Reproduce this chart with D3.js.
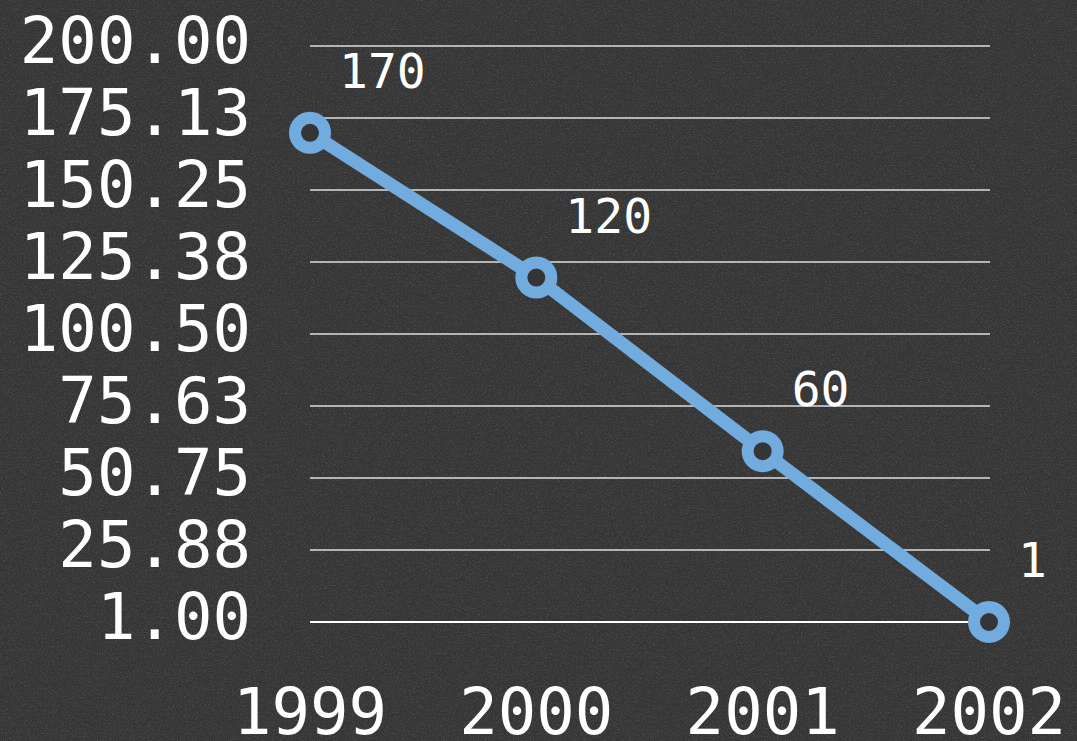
<!DOCTYPE html>
<html>
<head>
<meta charset="utf-8">
<script src="https://cdn.jsdelivr.net/npm/d3@7"></script>
<style>
  html, body { margin: 0; padding: 0; background: #373737; }
  svg { display: block; }
  text { font-family: "DejaVu Sans Mono", monospace; fill: #fff; }
</style>
</head>
<body>
<svg id="chart" width="1077" height="741"></svg>
<script>
var years = ["1999", "2000", "2001", "2002"];
var values = [170, 120, 60, 1];
var yTicks = [1, 25.875, 50.75, 75.625, 100.5, 125.375, 150.25, 175.125, 200];

var width = 1077, height = 741;
var svg = d3.select("#chart");

// chalkboard-ish background
var defs = svg.append("defs");
var noise = defs.append("filter").attr("id", "noise")
    .attr("x", 0).attr("y", 0).attr("width", "100%").attr("height", "100%");
noise.append("feTurbulence")
    .attr("type", "fractalNoise")
    .attr("baseFrequency", 0.75)
    .attr("numOctaves", 2)
    .attr("seed", 7);
noise.append("feColorMatrix")
    .attr("type", "matrix")
    .attr("values", "0 0 0 0 1  0 0 0 0 1  0 0 0 0 1  1.6 0 0 0 -0.75");

svg.append("rect").attr("width", width).attr("height", height).attr("fill", "#353535");
svg.append("rect").attr("width", width).attr("height", height)
    .attr("filter", "url(#noise)").attr("opacity", 0.22);

var x = d3.scalePoint().domain(years).range([310, 989]);
var y = d3.scaleLinear().domain([1, 200]).range([622, 46]);
var fmt = d3.format(".2f");

// grid lines
svg.append("g").selectAll("line")
    .data(yTicks)
    .enter()
    .append("line")
    .attr("x1", 310).attr("x2", 990)
    .attr("y1", function (d) { return y(d); })
    .attr("y2", function (d) { return y(d); })
    .attr("stroke", function (d, i) { return i === 0 ? "#ffffff" : "#b4b4b4"; })
    .attr("stroke-width", 2);

// y labels
svg.append("g").selectAll("text")
    .data(yTicks)
    .enter()
    .append("text")
    .attr("x", 251)
    .attr("y", function (d) { return y(d) + 17; })
    .attr("text-anchor", "end")
    .attr("font-size", 64)
    .text(function (d) { return fmt(d); });

// x labels
svg.append("g").selectAll("text")
    .data(years)
    .enter()
    .append("text")
    .attr("x", function (d) { return x(d); })
    .attr("y", 734)
    .attr("text-anchor", "middle")
    .attr("font-size", 64)
    .text(function (d) { return d; });

var pts = years.map(function (d, i) { return [x(d), y(values[i])]; });

svg.append("path")
    .datum(pts)
    .attr("d", d3.line())
    .attr("fill", "none")
    .attr("stroke", "#72abdd")
    .attr("stroke-width", 13)
    .attr("stroke-linejoin", "round");

svg.append("g").selectAll("circle")
    .data(pts)
    .enter()
    .append("circle")
    .attr("cx", function (d) { return d[0]; })
    .attr("cy", function (d) { return d[1]; })
    .attr("r", 15)
    .attr("fill", "#353535")
    .attr("stroke", "#72abdd")
    .attr("stroke-width", 12);

// value labels
svg.append("g").selectAll("text")
    .data(values)
    .enter()
    .append("text")
    .attr("x", function (d, i) { return x(years[i]) + 29; })
    .attr("y", function (d) { return y(d) - 45; })
    .attr("font-size", 48)
    .text(function (d) { return d; });
</script>
</body>
</html>
